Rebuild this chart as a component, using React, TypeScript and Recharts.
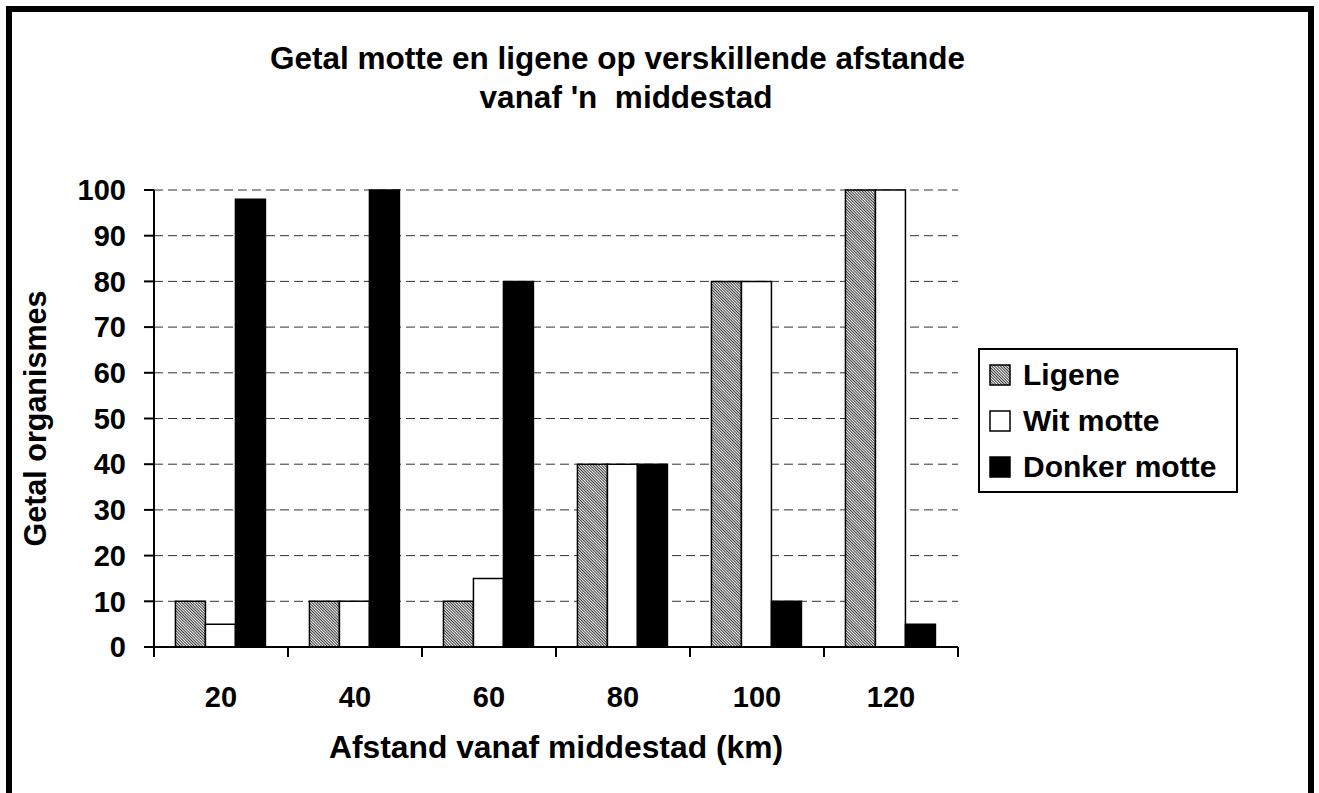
import React from 'react';
import { BarChart, Bar, XAxis, YAxis, CartesianGrid, Legend } from 'recharts';

const DISTANCES = ['20', '40', '60', '80', '100', '120'];
const LIGENE = [10, 10, 10, 40, 80, 100];
const WIT_MOTTE = [5, 10, 15, 40, 80, 100];
const DONKER_MOTTE = [98, 100, 80, 40, 10, 5];
const Y_TICKS = [0, 10, 20, 30, 40, 50, 60, 70, 80, 90, 100];
const TITLE_LINES = ['Getal motte en ligene op verskillende afstande', "vanaf 'n  middestad"];

const SERIES = [
  { key: 'ligene', name: 'Ligene', fill: 'url(#hatch)' },
  { key: 'wit', name: 'Wit motte', fill: '#ffffff' },
  { key: 'donker', name: 'Donker motte', fill: '#000000' },
];

const data = DISTANCES.map((d, i) => ({
  afstand: d,
  ligene: LIGENE[i],
  wit: WIT_MOTTE[i],
  donker: DONKER_MOTTE[i],
}));

const FONT = '"Liberation Sans", Arial, sans-serif';
const W = 1319;
const H = 793;
const MARGIN = { top: 190, right: 361, bottom: 86, left: 0 };
const Y_AXIS_W = 154;
const PLOT_W = W - MARGIN.left - MARGIN.right - Y_AXIS_W;
const BAND = PLOT_W / DISTANCES.length;

const XTick = (props: any) => {
  const { x, y, payload, index, visibleTicksCount } = props;
  const half = BAND / 2;
  return (
    <g>
      <line x1={x - half} x2={x - half} y1={y - 10} y2={y} stroke="#000" strokeWidth={2} />
      {index === visibleTicksCount - 1 && (
        <line x1={x + half} x2={x + half} y1={y - 10} y2={y} stroke="#000" strokeWidth={2} />
      )}
      <text x={x} y={y + 50} textAnchor="middle" fontFamily={FONT} fontWeight="bold" fontSize={29} fill="#000">
        {payload.value}
      </text>
    </g>
  );
};

const HatchDefs = ({ id }: { id: string }) => (
  <defs>
    <pattern id={id} width={2} height={2} patternUnits="userSpaceOnUse" patternTransform="rotate(-45)">
      <rect width={2} height={2} fill="#ffffff" />
      <rect width={1} height={2} fill="#333" />
    </pattern>
  </defs>
);

const LegendBox = () => (
  <div
    style={{
      width: 260,
      height: 145,
      boxSizing: 'border-box',
      border: '2px solid #000',
      background: '#fff',
      paddingTop: 2,
      paddingLeft: 9,
    }}
  >
    {SERIES.map((s) => (
      <div key={s.key} style={{ height: 46, display: 'flex', alignItems: 'center' }}>
        <svg width={22} height={22} style={{ flex: 'none' }}>
          <HatchDefs id="hatchLegend" />
          <rect
            x={1}
            y={1}
            width={20}
            height={20}
            fill={s.fill === 'url(#hatch)' ? 'url(#hatchLegend)' : s.fill}
            stroke="#000"
            strokeWidth={1.5}
          />
        </svg>
        <span
          style={{
            marginLeft: 12,
            fontFamily: FONT,
            fontWeight: 'bold',
            fontSize: 30,
            color: '#000',
            whiteSpace: 'nowrap',
          }}
        >
          {s.name}
        </span>
      </div>
    ))}
  </div>
);

const titleStyle: React.CSSProperties = {
  position: 'absolute',
  left: 0,
  textAlign: 'center',
  fontFamily: FONT,
  fontWeight: 'bold',
  fontSize: 31.5,
  lineHeight: '39px',
  whiteSpace: 'pre',
  color: '#000',
};

export default function App() {
  return (
    <div style={{ position: 'relative', width: W, height: H, background: '#fff', overflow: 'hidden' }}>
      <style>{'html,body{margin:0;padding:0;overflow:hidden;}'}</style>
      <div
        style={{
          position: 'absolute',
          left: 6,
          top: 6,
          width: 1308,
          height: 800,
          boxSizing: 'border-box',
          border: '6px solid #000',
          borderBottom: 'none',
        }}
      />
      <div style={{ ...titleStyle, width: 1235, top: 39 }}>{TITLE_LINES[0]}</div>
      <div style={{ ...titleStyle, width: 1252, top: 78 }}>{TITLE_LINES[1]}</div>
      <div style={{ position: 'absolute', left: 0, top: 0 }}>
        <BarChart
          width={W}
          height={H}
          data={data}
          margin={MARGIN}
          barGap={0}
          barCategoryGap="16%"
        >
          <HatchDefs id="hatch" />
          <CartesianGrid horizontal vertical={false} stroke="#333" strokeDasharray="9 5" />
          <XAxis
            dataKey="afstand"
            height={60}
            tickSize={10}
            tickMargin={0}
            tickLine={false}
            axisLine={{ stroke: '#000', strokeWidth: 2 }}
            tick={<XTick />}
            interval={0}
            label={{
              content: (p: any) => {
                const vb = p.viewBox;
                return (
                  <text
                    x={vb.x + vb.width / 2}
                    y={758}
                    textAnchor="middle"
                    fontFamily={FONT}
                    fontWeight="bold"
                    fontSize={31.8}
                    fill="#000"
                  >
                    Afstand vanaf middestad (km)
                  </text>
                );
              },
            }}
          />
          <YAxis
            width={Y_AXIS_W}
            domain={[0, 100]}
            ticks={Y_TICKS}
            interval={0}
            tickSize={10}
            tickMargin={18}
            axisLine={{ stroke: '#000', strokeWidth: 2 }}
            tickLine={{ stroke: '#000', strokeWidth: 2 }}
            tick={{ fontFamily: FONT, fontWeight: 'bold', fontSize: 29, fill: '#000' }}
            label={{
              content: (p: any) => {
                const vb = p.viewBox;
                const cy = vb.y + vb.height / 2;
                return (
                  <text
                    x={46}
                    y={cy}
                    transform={`rotate(-90 46 ${cy})`}
                    textAnchor="middle"
                    fontFamily={FONT}
                    fontWeight="bold"
                    fontSize={30.5}
                    fill="#000"
                  >
                    Getal organismes
                  </text>
                );
              },
            }}
          />
          {SERIES.map((s) => (
            <Bar
              key={s.key}
              dataKey={s.key}
              name={s.name}
              fill={s.fill}
              stroke="#000"
              strokeWidth={1.5}
              isAnimationActive={false}
            />
          ))}
          <Legend
            layout="vertical"
            align="center"
            verticalAlign="middle"
            wrapperStyle={{ left: 978, top: 348, width: 260, height: 145 }}
            content={() => <LegendBox />}
          />
        </BarChart>
      </div>
    </div>
  );
}
